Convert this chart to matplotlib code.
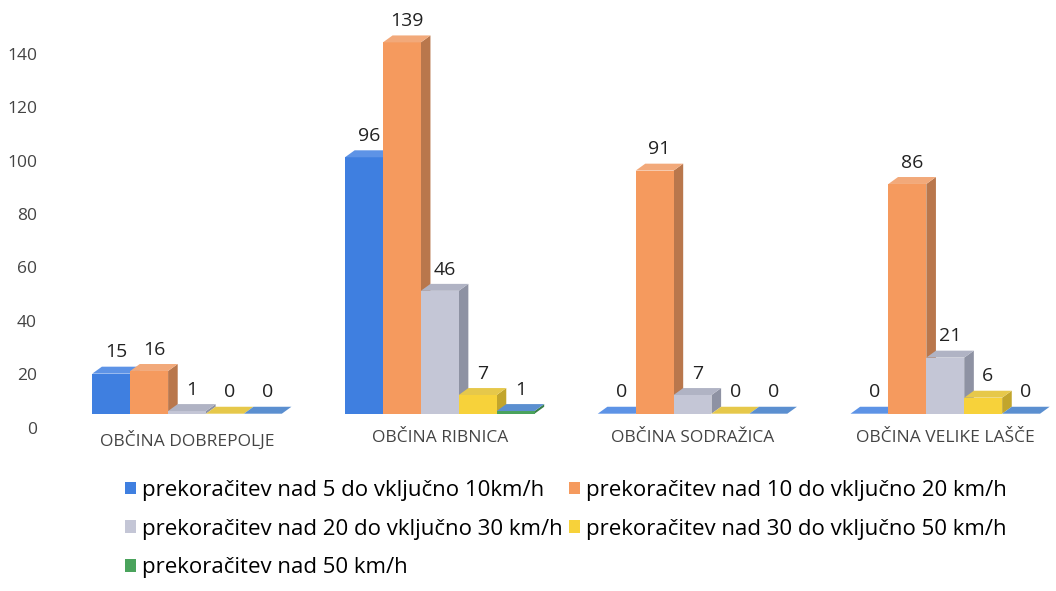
import matplotlib
matplotlib.use("Agg")
import matplotlib.pyplot as plt
from matplotlib.patches import Polygon
from matplotlib.transforms import ScaledTranslation
import numpy as np

plt.rcParams['font.family'] = ['Open Sans', 'DejaVu Sans']

categories = ["OBČINA DOBREPOLJE", "OBČINA RIBNICA", "OBČINA SODRAŽICA", "OBČINA VELIKE LAŠČE"]
series_names = [
    "prekoračitev nad 5 do vključno 10km/h",
    "prekoračitev nad 10 do vključno 20 km/h",
    "prekoračitev nad 20 do vključno 30 km/h",
    "prekoračitev nad 30 do vključno 50 km/h",
    "prekoračitev nad 50 km/h",
]
s1 = [15, 96, 0, 0]
s2 = [16, 139, 91, 86]
s3 = [1, 46, 7, 21]
s4 = [0, 7, 0, 6]
s5 = [0, 1, 0, 0]
series = [s1, s2, s3, s4, s5]
yticks = [0, 20, 40, 60, 80, 100, 120, 140]

front = ["#3f7fe0", "#f59a5e", "#c4c6d6", "#f7d23a", "#4aa35c"]
side = ["#2d5fae", "#b9774c", "#8e92a3", "#c2a52c", "#3a7f48"]
top = ["#5d93e6", "#f2a97a", "#b0b3c4", "#e6c84a", "#5b8fd0"]

fig = plt.figure(figsize=(10.56, 5.91), dpi=100)
ax = fig.add_axes([0.068, 0.300, 0.926, 0.678])
ax.set_xlim(-0.456, 3.413)
ax.set_ylim(0, 150)

x = np.arange(len(categories))
w = 0.15
dx = 0.038
dy = 2.6
handles = []
for i, vals in enumerate(series):
    xs = x + (i - 2) * w
    b = ax.bar(xs, vals, width=w, color=front[i], zorder=10 + 3 * i, label=series_names[i], linewidth=0)
    handles.append(b)
    for xc, v in zip(xs, vals):
        x0, x1 = xc - w / 2, xc + w / 2
        ax.add_patch(Polygon([(x1, 0), (x1 + dx, dy), (x1 + dx, v + dy), (x1, v)],
                             closed=True, facecolor=side[i], edgecolor='none', zorder=10 + 3 * i - 1))
        ax.add_patch(Polygon([(x0, v), (x1, v), (x1 + dx, v + dy), (x0 + dx, v + dy)],
                             closed=True, facecolor=top[i], edgecolor='none', zorder=10 + 3 * i + 1))
        ax.text(xc + dx / 2, v + dy + 2.0, str(v), ha='center', va='bottom', fontsize=14,
                color='#222222', zorder=40)

for s in ax.spines.values():
    s.set_visible(False)
ax.set_yticks(yticks)
ax.set_yticklabels([str(t) for t in yticks], fontsize=12.5, color='#444444')
ax.tick_params(axis='y', length=0, pad=25)
for lab in ax.get_yticklabels():
    lab.set_transform(lab.get_transform() + ScaledTranslation(0, -14 / 100, fig.dpi_scale_trans))
ax.set_xticks(x)
ax.set_xticklabels(categories, fontsize=12.5, color='#444444')
ax.tick_params(axis='x', length=0, pad=12)

order = [0, 2, 4, 1, 3]
leg = fig.legend([handles[k] for k in order], [series_names[k] for k in order],
                 ncol=2, loc='upper left', bbox_to_anchor=(0.108, 0.207),
                 frameon=False, fontsize=16, handlelength=0.5, handleheight=0.5,
                 handletextpad=0.25, columnspacing=0.3, labelspacing=0.8, borderpad=0)

fig.savefig("out.png", dpi=100)
